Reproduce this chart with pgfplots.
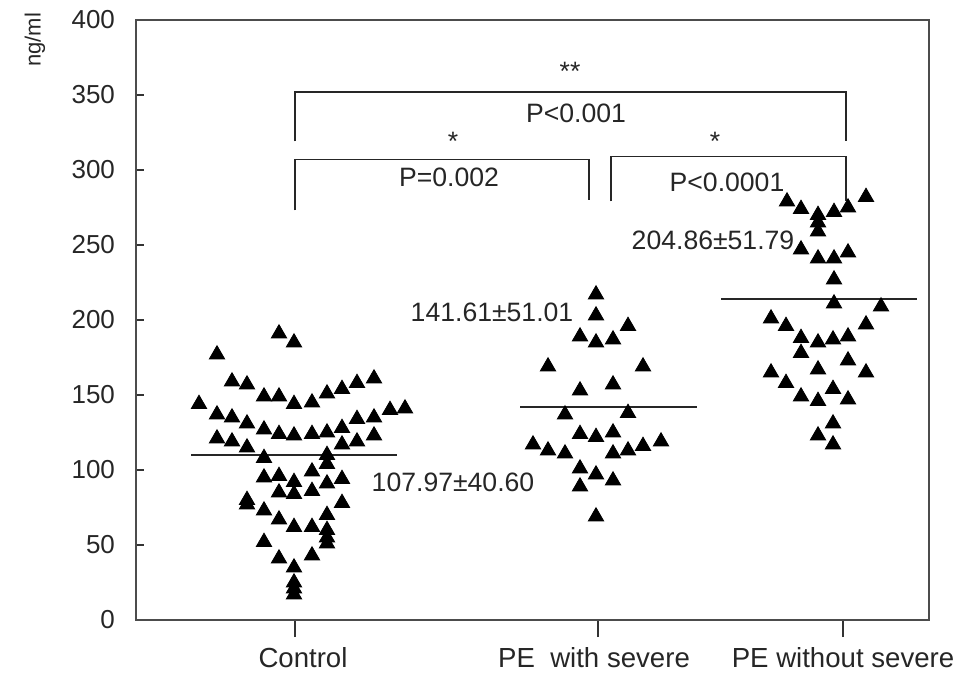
\documentclass[border=0pt]{standalone}
\usepackage{fontspec}
\setmainfont{Liberation Sans}
\usepackage{pgfplots}
\pgfplotsset{compat=1.18}
\begin{document}
\begin{tikzpicture}[x=1pt,y=1pt]
\path[use as bounding box] (-68pt,-27pt) rectangle (418pt,310pt);
\begin{axis}[
  at={(0pt,0pt)}, anchor=south west,
  scale only axis, width=396.5pt, height=300pt,
  xmin=136, xmax=929, ymin=0, ymax=400,
  xtick={295,598,843},
  xticklabels={{\hspace*{8pt}Control}, {PE\ \ with severe\hspace*{4pt}}, PE without severe},
  ytick={0,50,...,400},
  xtick pos=bottom, ytick pos=left,
  xtick align=outside, ytick align=inside,
  major tick length=4pt,
  x tick style={/pgfplots/major tick length=8.5pt},
  tick style={black!80, line width=0.6pt},
  axis line style={black!70, line width=0.7pt},
  /pgf/number format/assume math mode=true,
  ticklabel style={font=\fontsize{13}{15}\selectfont, text=black!85},
  xticklabel style={font=\fontsize{13.8}{16}\selectfont, yshift=-6pt},
  yticklabel style={xshift=-7pt},
  clip=false,
]
% Control
\addplot[only marks, mark=triangle*, mark size=4.4pt, black] coordinates {
(279,191)(294,185)(217,177)(232,159)(247,157)(264,149)(279,149)(294,144)(312,145)(327,151)(342,154)(357,158)(374,161)
(199,144)(217,137)(232,135)(247,131)(264,127)(279,124)(294,123)(312,124)(327,125)(342,128)(357,134)(374,135)(390,140)(405,141)
(217,121)(232,119)(247,115)(342,117)(357,119)(374,123)(264,108)(327,110)(327,104)(312,99)(264,95)(279,96)(294,92)(342,94)(327,91)
(279,85)(294,84)(312,86)(247,80)(247,77)(264,73)(342,78)(327,70)(279,67)(294,62)(312,62)(327,60)(327,55)(327,51)(264,52)
(279,41)(312,43)(294,35)(294,25)(294,21)(294,17)
};
% PE with severe
\addplot[only marks, mark=triangle*, mark size=4.4pt, black] coordinates {
(596,217)(596,203)(628,196)(580,189)(596,185)(613,187)(548,169)(643,169)(580,153)(613,157)(565,137)(628,138)
(580,124)(596,122)(613,125)(533,117)(548,113)(565,111)(613,111)(628,113)(643,116)(661,119)(580,101)(596,97)(613,93)(580,89)(596,69)
};
% PE without severe
\addplot[only marks, mark=triangle*, mark size=4.4pt, black] coordinates {
(787,279)(801,274)(818,270)(818,265)(834,272)(848,275)(866,282)(818,259)(801,247)(818,241)(834,241)(848,245)(834,227)
(834,211)(881,209)(771,201)(786,196)(801,188)(818,185)(833,187)(848,189)(866,197)(801,178)(848,173)(771,165)(866,165)(818,167)
(786,158)(833,154)(801,149)(818,146)(848,147)(833,131)(818,123)(833,117)
};
% mean lines
\addplot[black!85, line width=0.8pt] coordinates {(191,110)(397,110)};
\addplot[black!85, line width=0.8pt] coordinates {(520,142)(697,142)};
\addplot[black!85, line width=0.8pt] coordinates {(721,214)(917,214)};
% brackets
\draw[black!85, line width=0.8pt] (axis cs:295,319) -- (axis cs:295,352) -- (axis cs:846,352) -- (axis cs:846,319);
\draw[black!85, line width=0.8pt] (axis cs:295,273) -- (axis cs:295,307) -- (axis cs:589,307) -- (axis cs:589,280);
\draw[black!85, line width=0.8pt] (axis cs:611,279) -- (axis cs:611,309) -- (axis cs:846,309) -- (axis cs:846,279);
\begin{scope}[every node/.style={font=\fontsize{13.3}{15}\selectfont, text=black!85, inner sep=0pt}]
\node at (axis cs:570,366) {**};
\node at (axis cs:453,319) {*};
\node at (axis cs:715,319) {*};
\node at (axis cs:576,338) {P<0.001};
\node at (axis cs:449,295) {P=0.002};
\node at (axis cs:727,292) {P<0.0001};
\node at (axis cs:453,92) {107.97±40.60};
\node at (axis cs:492,205) {141.61±51.01};
\node at (axis cs:713,253) {204.86±51.79};
\end{scope}
\end{axis}
\node[rotate=90, font=\fontsize{11}{13}\selectfont, text=black!85, inner sep=0pt] at (-50.5pt,290pt) {ng/ml};
\end{tikzpicture}
\end{document}
